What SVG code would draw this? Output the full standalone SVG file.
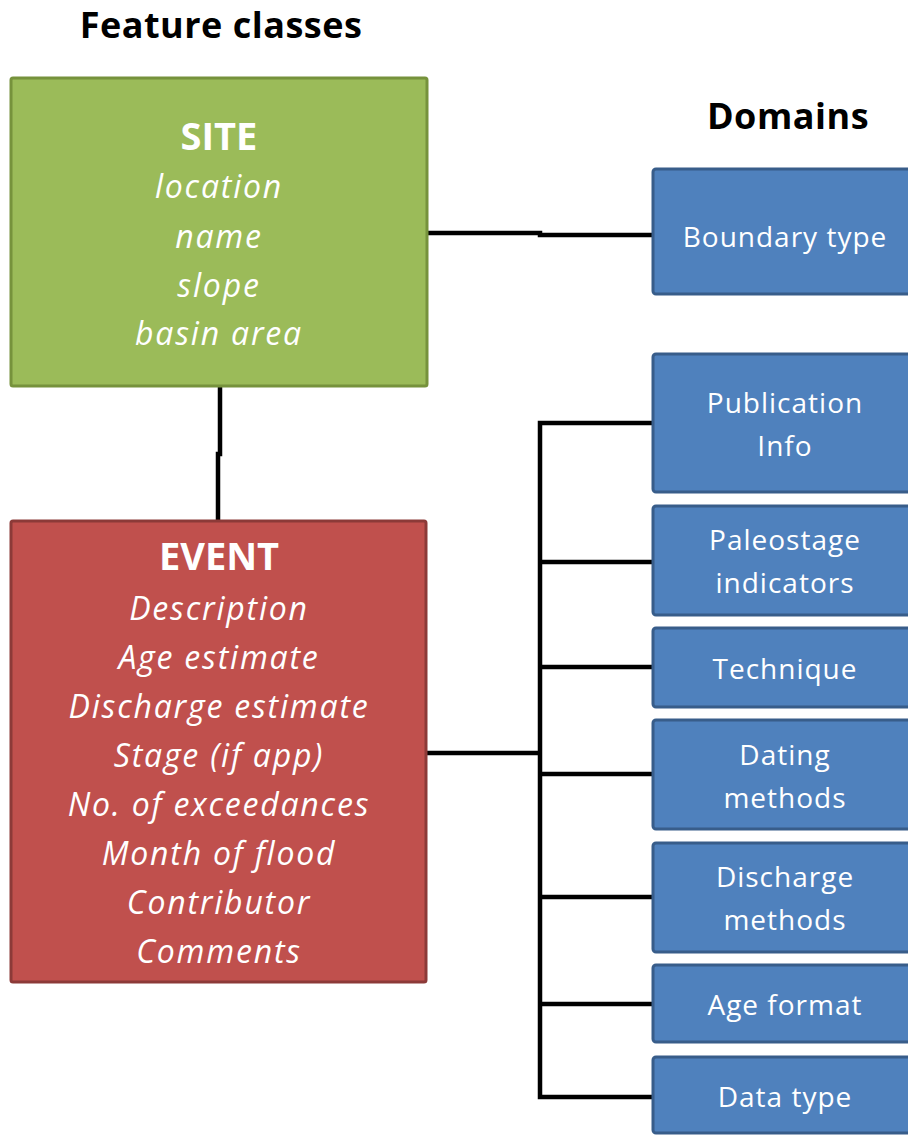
<svg xmlns="http://www.w3.org/2000/svg" width="908" height="1135" viewBox="0 0 908 1135">
<style>
  .title { font-family: "Open Sans", "Liberation Sans", sans-serif; font-weight: bold; font-size: 36px; letter-spacing: 0.5px; fill: #000; text-anchor: middle; }
  .head { font-family: "Open Sans", "Liberation Sans", sans-serif; font-weight: bold; font-size: 38px; fill: #fff; text-anchor: middle; }
  .attr { font-family: "Open Sans", "Liberation Sans", sans-serif; font-style: italic; font-size: 32px; letter-spacing: 1.8px; fill: #fff; text-anchor: middle; }
  .dom { font-family: "Open Sans", "Liberation Sans", sans-serif; font-size: 28px; letter-spacing: 1px; fill: #fff; text-anchor: middle; }
  .site { fill: #9BBB59; stroke: #76923C; stroke-width: 3; }
  .event { fill: #C0504D; stroke: #8C3A38; stroke-width: 3; }
  .dbox { fill: #4F81BD; stroke: #385D8A; stroke-width: 3; }
  .conn { fill: none; stroke: #000; stroke-width: 4.5; stroke-linejoin: miter; }
</style>

<text class="title" x="221" y="38">Feature classes</text>
<text class="title" x="788" y="129">Domains</text>

<g id="connectors">
  <path class="conn" d="M428,233 H540 V235 H652"/>
  <path class="conn" d="M220,387 V454 H218 V520"/>
  <path class="conn" d="M427,753 H540" stroke-width="6"/>
  <path class="conn" d="M652,423 H540 V1097 H652"/>
  <path class="conn" d="M540,562 H652"/>
  <path class="conn" d="M540,667 H652"/>
  <path class="conn" d="M540,774 H652"/>
  <path class="conn" d="M540,897 H652"/>
  <path class="conn" d="M540,1004 H652"/>
</g>

<g id="site">
  <rect class="site" x="11" y="78" width="416" height="308" rx="2"/>
  <text class="head" x="219" y="150">SITE</text>
  <text class="attr" x="219" y="198">location</text>
  <text class="attr" x="219" y="248">name</text>
  <text class="attr" x="219" y="297">slope</text>
  <text class="attr" x="219" y="345">basin area</text>
</g>

<g id="event">
  <rect class="event" x="11" y="521" width="415" height="461" rx="2"/>
  <text class="head" x="219" y="570">EVENT</text>
  <text class="attr" x="219" y="620">Description</text>
  <text class="attr" x="219" y="669">Age estimate</text>
  <text class="attr" x="219" y="718">Discharge estimate</text>
  <text class="attr" x="219" y="767">Stage (if app)</text>
  <text class="attr" x="219" y="816">No. of exceedances</text>
  <text class="attr" x="219" y="865">Month of flood</text>
  <text class="attr" x="219" y="914">Contributor</text>
  <text class="attr" x="219" y="963">Comments</text>
</g>

<g id="boundary-type">
  <rect class="dbox" x="653" y="169" width="270" height="125" rx="3"/>
  <text class="dom" x="785" y="247">Boundary type</text>
</g>
<g id="publication-info">
  <rect class="dbox" x="653" y="354" width="270" height="138" rx="3"/>
  <text class="dom" x="785" y="413">Publication</text>
  <text class="dom" x="785" y="456">Info</text>
</g>
<g id="paleostage-indicators">
  <rect class="dbox" x="653" y="506" width="270" height="109" rx="3"/>
  <text class="dom" x="785" y="550">Paleostage</text>
  <text class="dom" x="785" y="593">indicators</text>
</g>
<g id="technique">
  <rect class="dbox" x="653" y="628" width="270" height="79" rx="3"/>
  <text class="dom" x="785" y="679">Technique</text>
</g>
<g id="dating-methods">
  <rect class="dbox" x="653" y="720" width="270" height="109" rx="3"/>
  <text class="dom" x="785" y="765">Dating</text>
  <text class="dom" x="785" y="808">methods</text>
</g>
<g id="discharge-methods">
  <rect class="dbox" x="653" y="843" width="270" height="109" rx="3"/>
  <text class="dom" x="785" y="887">Discharge</text>
  <text class="dom" x="785" y="930">methods</text>
</g>
<g id="age-format">
  <rect class="dbox" x="653" y="965" width="270" height="77" rx="3"/>
  <text class="dom" x="785" y="1015">Age format</text>
</g>
<g id="data-type">
  <rect class="dbox" x="653" y="1057" width="270" height="76" rx="3"/>
  <text class="dom" x="785" y="1107">Data type</text>
</g>
</svg>
